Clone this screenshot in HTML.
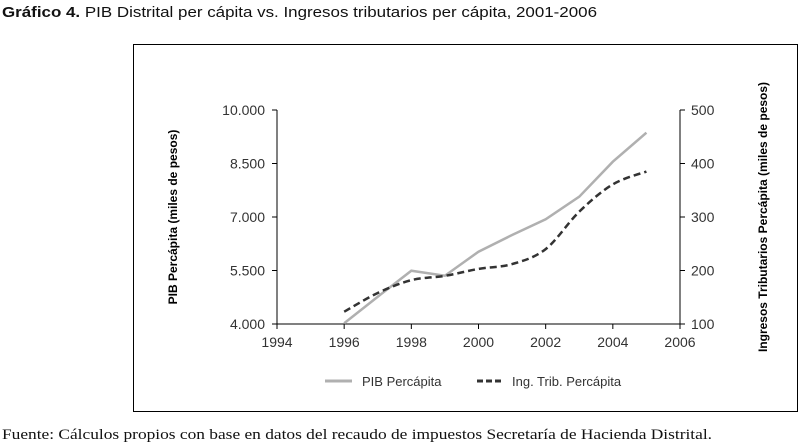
<!DOCTYPE html>
<html><head><meta charset="utf-8"><style>
body{margin:0;background:#fff;width:800px;height:442px;overflow:hidden}
svg{display:block}
</style></head><body>
<svg width="800" height="442" id="chart" font-family="'Liberation Sans', sans-serif">
<text x="2" y="17" font-size="15" fill="#111" textLength="595" lengthAdjust="spacingAndGlyphs"><tspan font-weight="bold">Gráfico 4.</tspan> PIB Distrital per cápita vs. Ingresos tributarios per cápita, 2001-2006</text>
<rect x="133.5" y="44.5" width="664" height="367" fill="none" stroke="#000" stroke-width="1"/>
<text x="2" y="439" font-size="15" font-family="'Liberation Serif', serif" fill="#111" textLength="710" lengthAdjust="spacingAndGlyphs">Fuente: Cálculos propios con base en datos del recaudo de impuestos Secretaría de Hacienda Distrital.</text>
<text transform="translate(177,217) rotate(-90)" text-anchor="middle" font-size="12" font-weight="bold">PIB Percápita (miles de pesos)</text>
<text transform="translate(767,217) rotate(-90)" text-anchor="middle" font-size="12" font-weight="bold">Ingresos Tributarios Percápita (miles de pesos)</text>
<g id="axes"></g>
<g id="marks"></g>
<g>
<line x1="325" y1="381" x2="352" y2="381" stroke="#b0b0b0" stroke-width="3"/>
<text x="362" y="386" font-size="13" fill="#333">PIB Percápita</text>
<line x1="477" y1="381" x2="504" y2="381" stroke="#333" stroke-width="3" stroke-dasharray="6,3"/>
<text x="512" y="386" font-size="13" fill="#333">Ing. Trib. Percápita</text>
</g>
</svg>
<script>
const years=[1996,1997,1998,1999,2000,2001,2002,2003,2004,2005];
const pib=[4020,4765,5494,5354,6027,6495,6935,7569,8550,9363];
const ing=[123,158,182,190,203,212,240,310,361,385];
const xTicks=[1994,1996,1998,2000,2002,2004,2006];
const leftTicks=[4000,5500,7000,8500,10000];
const leftLabels=["4.000","5.500","7.000","8.500","10.000"];
const rightTicks=[100,200,300,400,500];
const NS="http://www.w3.org/2000/svg";
const X0=277,X1=680,Y0=324,Y1=110;
const x=v=>X0+(v-1994)/(2006-1994)*(X1-X0);
const yl=v=>Y0-(v-4000)/6000*(Y0-Y1);
const yr=v=>Y0-(v-100)/400*(Y0-Y1);
function mk(t,a,p){const e=document.createElementNS(NS,t);for(const k in a)e.setAttribute(k,a[k]);p.appendChild(e);return e;}
const ax=document.getElementById('axes'),mg=document.getElementById('marks');
let e=mk('line',{x1:X0,y1:Y1,x2:X0,y2:Y0,stroke:'#000'},ax);


e=mk('line',{x1:X1,y1:Y1,x2:X1,y2:Y0,stroke:'#000'},ax);


e=mk('line',{x1:X0,y1:Y0,x2:X1,y2:Y0,stroke:'#000'},ax);


xTicks.forEach(t=>{
 const tk=mk('line',{x1:x(t),y1:Y0,x2:x(t),y2:Y0+5,stroke:'#000'},ax);
 
 
 const tx=mk('text',{x:x(t),y:Y0+23,'text-anchor':'middle','font-size':14,fill:'#333'},ax);tx.textContent=t;
 
 
});
leftTicks.forEach((t,i)=>{
 const tk=mk('line',{x1:X0-5,y1:yl(t),x2:X0,y2:yl(t),stroke:'#000'},ax);
 
 
 const tx=mk('text',{x:X0-12,y:yl(t)+5,'text-anchor':'end','font-size':14,fill:'#333'},ax);tx.textContent=leftLabels[i];
 
 
});
rightTicks.forEach(t=>{
 const tk=mk('line',{x1:X1,y1:yr(t),x2:X1+5,y2:yr(t),stroke:'#000'},ax);
 
 
 const tx=mk('text',{x:X1+11,y:yr(t)+5,'font-size':14,fill:'#333'},ax);tx.textContent=t;
 
 
});
const pp=years.map((yv,i)=>[x(yv),yl(pib[i])]);
e=mk('polyline',{points:pp.map(p=>p.join(',')).join(' '),fill:'none',stroke:'#b0b0b0','stroke-width':2.5},mg);


const ip=years.map((yv,i)=>[x(yv),yr(ing[i])]);
let d='M'+ip[0].join(',');
for(let i=0;i<ip.length-1;i++){
 const p0=ip[Math.max(0,i-1)],p1=ip[i],p2=ip[i+1],p3=ip[Math.min(ip.length-1,i+2)];
 const c1=[p1[0]+(p2[0]-p0[0])/6,p1[1]+(p2[1]-p0[1])/6],c2=[p2[0]-(p3[0]-p1[0])/6,p2[1]-(p3[1]-p1[1])/6];
 d+=' C'+c1.join(',')+' '+c2.join(',')+' '+p2.join(',');
}
e=mk('path',{d:d,fill:'none',stroke:'#333','stroke-width':2.5,'stroke-dasharray':'7,4'},mg);


</script>
</body></html>
